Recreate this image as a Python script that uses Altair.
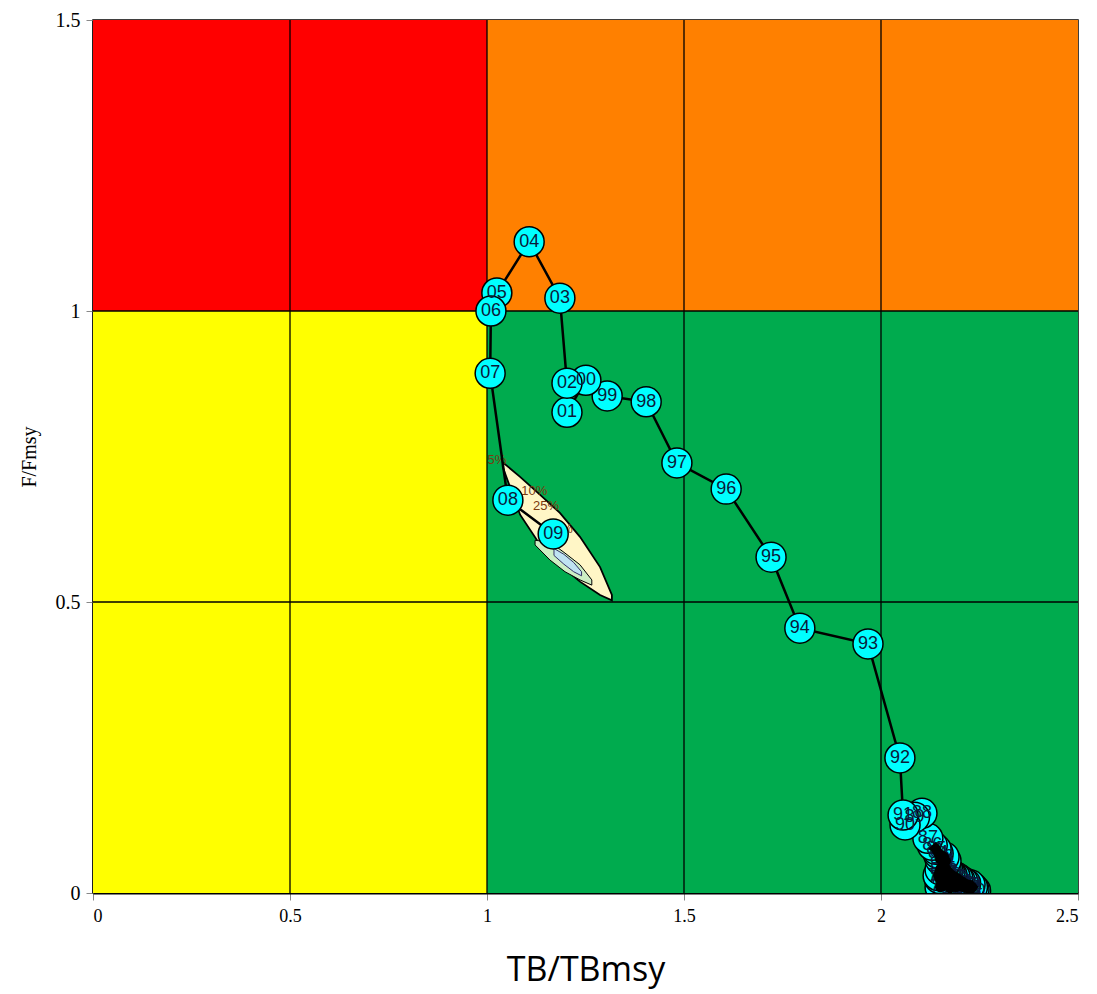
import altair as alt
import pandas as pd

# ---- data ----
years = list(range(1950, 2010))
tb = [2.240, 2.236, 2.230, 2.225, 2.232, 2.220, 2.212, 2.226, 2.205, 2.215,
      2.198, 2.208, 2.190, 2.200, 2.182, 2.195, 2.175, 2.188, 2.168, 2.180,
      2.160, 2.175, 2.155, 2.170, 2.150, 2.165, 2.148, 2.160, 2.145, 2.158,
      2.150, 2.165, 2.150, 2.160, 2.145, 2.140, 2.130,
      2.119, 2.104, 2.085, 2.061, 2.056, 2.048, 1.967, 1.794, 1.721, 1.607,
      1.482, 1.404, 1.305, 1.251, 1.203, 1.203, 1.185, 1.107, 1.025, 1.010,
      1.008, 1.053, 1.168]
ff = [0.004, 0.006, 0.008, 0.006, 0.010, 0.012, 0.009, 0.014, 0.011, 0.016,
      0.013, 0.019, 0.010, 0.022, 0.015, 0.025, 0.008, 0.028, 0.018, 0.031,
      0.012, 0.034, 0.022, 0.038, 0.010, 0.042, 0.025, 0.046, 0.030, 0.050,
      0.040, 0.055, 0.058, 0.062, 0.068, 0.075, 0.082,
      0.094, 0.137, 0.130, 0.117, 0.134, 0.232, 0.428, 0.455, 0.577, 0.694,
      0.739, 0.844, 0.854, 0.881, 0.826, 0.876, 1.022, 1.119, 1.031, 1.000,
      0.893, 0.675, 0.617]
labels = [f"{y % 100:02d}" for y in years]

# quadrants
q_x = [0, 1, 0, 1]
q_x2 = [1, 2.5, 1, 2.5]
q_y = [1, 1, 0, 0]
q_y2 = [1.5, 1.5, 1, 1]
q_col = ["#FF0000", "#FF8000", "#FFFF00", "#00AB4E"]

grid_x = [0.5, 1.0, 1.5, 2.0]
grid_y = [0.5, 1.0]

# contour of the final-year estimate (outer)
c_x = [1.040, 1.084, 1.135, 1.185, 1.236, 1.287, 1.317]
c_lo = [0.732, 0.650, 0.598, 0.564, 0.535, 0.512, 0.503]
c_hi = [0.740, 0.715, 0.684, 0.653, 0.612, 0.560, 0.512]
# inner contour
i_x = [1.122, 1.160, 1.198, 1.236, 1.266]
i_lo = [0.598, 0.572, 0.552, 0.538, 0.529]
i_hi = [0.606, 0.603, 0.584, 0.564, 0.538]
# innermost contour
k_x = [1.170, 1.195, 1.220, 1.240]
k_lo = [0.580, 0.565, 0.552, 0.545]
k_hi = [0.592, 0.582, 0.568, 0.552]

clab_text = ["5%", "10%", "25%", "50%"]
clab_x = [1.025, 1.120, 1.150, 1.185]
clab_y = [0.744, 0.690, 0.665, 0.625]

# ---- frames ----
pts = pd.DataFrame({"year": years, "tb": tb, "f": ff, "lab": labels})
early = pts[pts.year <= 1986]
quad = pd.DataFrame({"x": q_x, "x2": q_x2, "y": q_y, "y2": q_y2, "c": q_col})
gx = pd.DataFrame({"v": grid_x})
gy = pd.DataFrame({"v": grid_y})
cont = pd.DataFrame({"x": c_x, "lo": c_lo, "hi": c_hi})
inner = pd.DataFrame({"x": i_x, "lo": i_lo, "hi": i_hi})
innermost = pd.DataFrame({"x": k_x, "lo": k_lo, "hi": k_hi})
clab = pd.DataFrame({"t": clab_text, "x": clab_x, "y": clab_y})

xs = alt.Scale(domain=[0, 2.5], nice=False, zero=False)
ys = alt.Scale(domain=[0, 1.5], nice=False, zero=False)

xaxis = alt.Axis(values=[0, 0.5, 1, 1.5, 2, 2.5], format="~g", grid=False,
                 title="TB/TBmsy", titleFont="Open Sans", titleFontSize=34,
                 titleFontWeight="normal", titleColor="black", titlePadding=28,
                 labelFont="Liberation Serif", labelFontSize=18, labelColor="black",
                 labelPadding=7, tickColor="#888888", tickSize=7,
                 domainColor="black", domainWidth=2)
yaxis = alt.Axis(values=[0, 0.5, 1, 1.5], format="~g", grid=False,
                 title="F/Fmsy", titleFont="Liberation Serif", titleFontSize=20,
                 titleFontWeight="normal", titleColor="black", titlePadding=16,
                 labelFont="Liberation Serif", labelFontSize=20, labelColor="black",
                 labelPadding=6, tickColor="#888888", tickSize=7,
                 domainColor="black", domainWidth=2)

rects = alt.Chart(quad).mark_rect(clip=True).encode(
    x=alt.X("x:Q", scale=xs, axis=xaxis),
    x2="x2:Q",
    y=alt.Y("y:Q", scale=ys, axis=yaxis),
    y2="y2:Q",
    color=alt.Color("c:N", scale=None),
)

vrules = alt.Chart(gx).mark_rule(color="black", strokeWidth=1.3).encode(
    x=alt.X("v:Q", scale=xs))
hrules = alt.Chart(gy).mark_rule(color="black", strokeWidth=1.3).encode(
    y=alt.Y("v:Q", scale=ys))

outer_area = alt.Chart(cont).mark_area(color="#FFF6C6", stroke="black",
                                       strokeWidth=1.8, opacity=1).encode(
    x=alt.X("x:Q", scale=xs), y=alt.Y("lo:Q", scale=ys), y2="hi:Q")
inner_area = alt.Chart(inner).mark_area(color="#CDEFC4", stroke="black",
                                        strokeWidth=1, opacity=1).encode(
    x=alt.X("x:Q", scale=xs), y=alt.Y("lo:Q", scale=ys), y2="hi:Q")
innermost_area = alt.Chart(innermost).mark_area(color="#BFE3F2", stroke="#333366",
                                                strokeWidth=1, opacity=1).encode(
    x=alt.X("x:Q", scale=xs), y=alt.Y("lo:Q", scale=ys), y2="hi:Q")
clabels = alt.Chart(clab).mark_text(font="Liberation Sans", fontSize=13,
                                    color="#7A3A10").encode(
    x=alt.X("x:Q", scale=xs), y=alt.Y("y:Q", scale=ys), text="t:N")

path = alt.Chart(pts).mark_line(color="black", strokeWidth=2.5, clip=True).encode(
    x=alt.X("tb:Q", scale=xs), y=alt.Y("f:Q", scale=ys), order="year:O")

circles = alt.Chart(pts).mark_point(shape="circle", filled=True, size=900,
                                    fill="#00FFFF", stroke="black",
                                    strokeWidth=1.5, opacity=1, clip=True).encode(
    x=alt.X("tb:Q", scale=xs), y=alt.Y("f:Q", scale=ys), order="year:O")

texts = alt.Chart(pts).mark_text(font="Liberation Sans", fontSize=18,
                                 fontWeight="normal", color="#0A1A3A", clip=True).encode(
    x=alt.X("tb:Q", scale=xs), y=alt.Y("f:Q", scale=ys), text="lab:N")

early_path = alt.Chart(early).mark_line(color="black", strokeWidth=10, clip=True,
                                        strokeJoin="round").encode(
    x=alt.X("tb:Q", scale=xs), y=alt.Y("f:Q", scale=ys), order="year:O")

chart = alt.layer(
    rects, vrules, hrules, outer_area, inner_area, innermost_area, clabels,
    path, circles, texts, early_path
).properties(
    width=985, height=873,
    autosize=alt.AutoSizeParams(type="none"),
    padding={"left": 93, "top": 20, "right": 19, "bottom": 101},
).configure_view(stroke="black", strokeWidth=1.5)

chart.save("out.html", embed_options={"renderer": "svg", "actions": False})
